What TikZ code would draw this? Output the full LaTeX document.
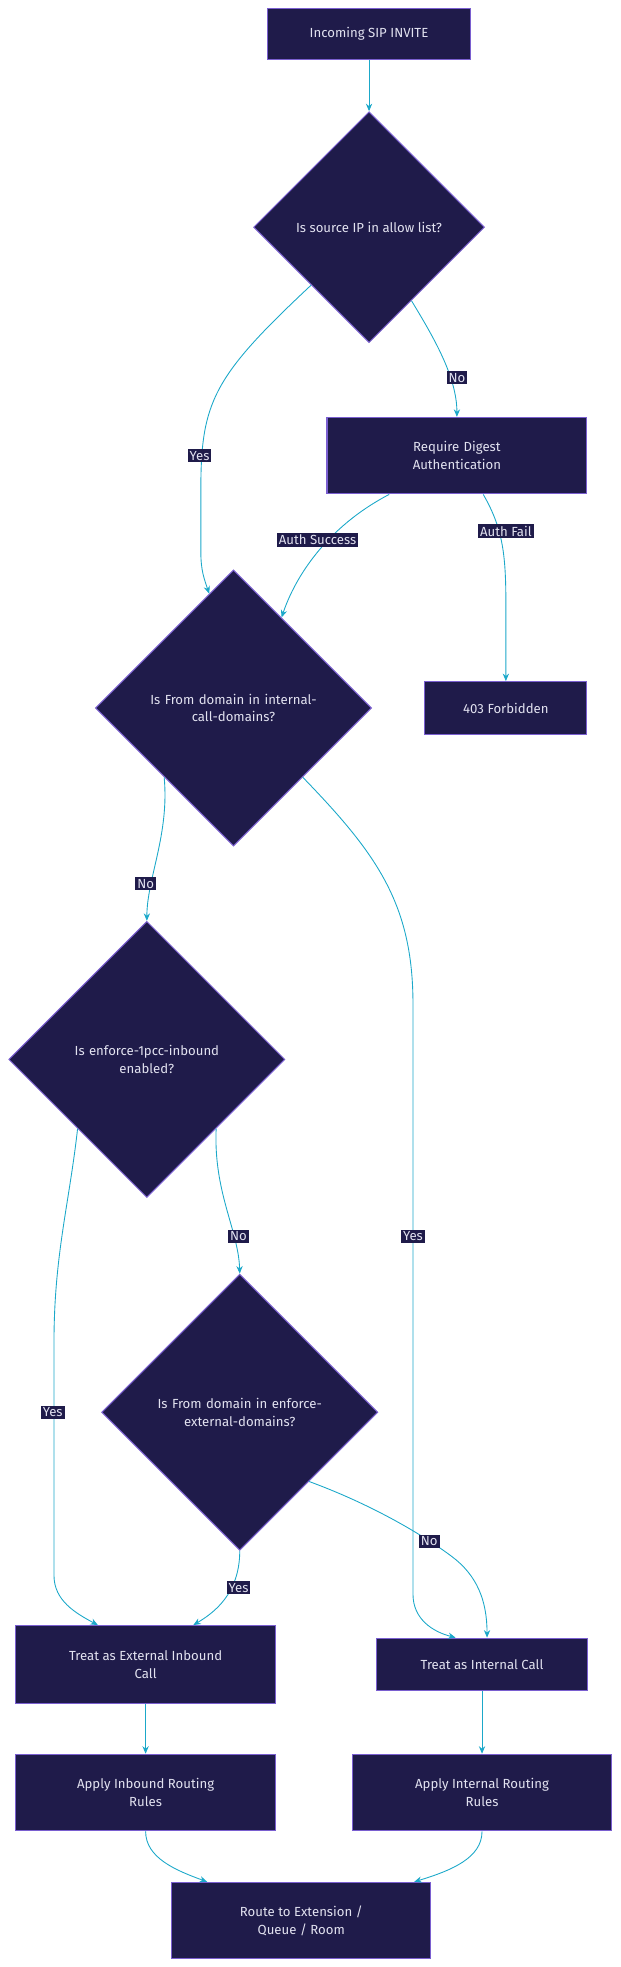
\documentclass[tikz,border=0pt]{standalone}
\usepackage{fontspec}
\setmainfont{Fira Sans}
\usetikzlibrary{shapes.geometric,arrows.meta}
\definecolor{nf}{HTML}{1F1B4A}
\definecolor{nb}{HTML}{7A5FD0}
\definecolor{ln}{HTML}{1BA8C9}
\definecolor{tx}{HTML}{E2E2F0}
\tikzset{
 box/.style={draw=nb,fill=nf,text=tx,font=\fontsize{10.5}{14}\selectfont,align=center,inner sep=0pt,line width=0.8pt},
 dia/.style={diamond,aspect=1,draw=nb,fill=nf,text=tx,font=\fontsize{10.5}{14}\selectfont,align=center,inner sep=0pt,line width=0.8pt},
 arr/.style={draw=ln,line width=0.7pt,-{Stealth[length=6pt,width=5pt]}},
 lab/.style={fill=nf,text=tx,font=\fontsize{10.5}{12}\selectfont,inner sep=1.5pt}
}
\begin{document}
\begin{tikzpicture}[x=1pt,y=-1pt]
\useasboundingbox (0,0) rectangle (494,1567);
\node[box,minimum width=162pt,minimum height=41pt] (s) at (294,27) {Incoming SIP INVITE};
\node[dia,minimum width=184pt,minimum height=184pt] (d1) at (294,181) {Is source IP in allow list?};
\node[box,minimum width=207pt,minimum height=61pt,text width=150pt] (dg) at (364,363) {Require Digest\\Authentication};
\node[dia,minimum width=220pt,minimum height=220pt,text width=170pt] (d2) at (186,564) {Is From domain in internal-\\call-domains?};
\node[box,minimum width=129pt,minimum height=42pt] (f) at (403,564) {403 Forbidden};
\node[dia,minimum width=220pt,minimum height=220pt,text width=170pt] (d3) at (117,844) {Is enforce-1pcc-inbound\\enabled?};
\node[dia,minimum width=220pt,minimum height=220pt,text width=170pt] (d4) at (191,1125) {Is From domain in enforce-\\external-domains?};
\node[box,minimum width=207pt,minimum height=62pt] (ex) at (116,1326) {Treat as External Inbound\\Call};
\node[box,minimum width=168pt,minimum height=42pt] (in) at (384,1326) {Treat as Internal Call};
\node[box,minimum width=207pt,minimum height=61pt] (ir) at (116,1428) {Apply Inbound Routing\\Rules};
\node[box,minimum width=207pt,minimum height=61pt] (nr) at (384,1428) {Apply Internal Routing\\Rules};
\node[box,minimum width=206pt,minimum height=61pt] (rt) at (240,1530) {Route to Extension /\\Queue / Room};

\draw[arr] (s) -- (d1);
\draw[arr] (d1.south west) .. controls (170,300) and (160,320) .. (160,390) -- (160,440) .. controls (160,455) and (163,462) .. (d2.102);
\draw[arr] (d1.300) .. controls (345,268) and (364,300) .. (dg.north);
\draw[arr] ([xshift=-54pt]dg.south) .. controls (260,420) and (235,460) .. (d2.62);
\draw[arr] ([xshift=21pt]dg.south) .. controls (400,420) and (403,440) .. (403,480) -- (f.north);
\draw[arr] (d2.south west) .. controls (135,665) and (117,700) .. (d3.north);
\draw[arr] (d2.south east) .. controls (300,680) and (329,720) .. (329,800) -- (329,1270) .. controls (329,1290) and (345,1300) .. ([xshift=-21pt]in.north);
\draw[arr] (d3.south west) .. controls (55,960) and (43,1000) .. (43,1070) -- (43,1255) .. controls (43,1275) and (60,1285) .. ([xshift=-38pt]ex.north);
\draw[arr] (d3.south east) .. controls (170,950) and (190,980) .. (d4.north);
\draw[arr] (d4.south) .. controls (191,1270) and (170,1285) .. ([xshift=38pt]ex.north);
\draw[arr] (d4.south east) .. controls (300,1200) and (340,1225) .. (360,1240) .. controls (380,1255) and (388,1275) .. ([xshift=4pt]in.north);
\draw[arr] (ex) -- (ir);
\draw[arr] (in) -- (nr);
\draw[arr] (ir.south) .. controls (116,1480) and (140,1490) .. ([xshift=-75pt]rt.north);
\draw[arr] (nr.south) .. controls (384,1480) and (360,1490) .. ([xshift=90pt]rt.north);

\node[lab] at (159,363) {Yes};
\node[lab] at (364,301) {No};
\node[lab] at (253,430) {Auth Success};
\node[lab] at (403,423) {Auth Fail};
\node[lab] at (116,704) {No};
\node[lab] at (329,985) {Yes};
\node[lab] at (42,1125) {Yes};
\node[lab] at (190,985) {No};
\node[lab] at (190,1265) {Yes};
\node[lab] at (342,1228) {No};
\end{tikzpicture}
\end{document}
